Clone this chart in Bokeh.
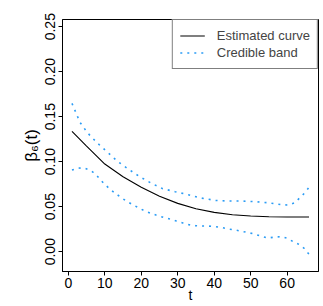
from bokeh.plotting import figure
from bokeh.models import FixedTicker, Legend, LegendItem, Range1d
from bokeh.embed import file_html
from bokeh.resources import INLINE

# ---- data ----
t_est = [1, 5, 10, 15, 20, 25, 30, 35, 40, 45, 50, 55, 60, 66]
est = [0.1337, 0.1174, 0.0974, 0.0833, 0.0715, 0.0615, 0.0537, 0.0478, 0.0437,
       0.0411, 0.0396, 0.0388, 0.0385, 0.0385]

t_up = [1.0, 3.2, 5.3, 7.85, 10.6, 13.4, 16.3, 19.45, 22.65, 25.9, 29.3, 32.9,
        36.5, 40.2, 43.8, 47.5, 51.1, 54.8, 58.4, 60.3, 62.1, 63.4, 64.7, 66.0]
upper = [0.1648, 0.1437, 0.1319, 0.1211, 0.1111, 0.1007, 0.0922, 0.0837,
         0.0763, 0.0700, 0.0667, 0.0633, 0.0596, 0.0570, 0.0563, 0.0563,
         0.0556, 0.0544, 0.0522, 0.0519, 0.0544, 0.0596, 0.0648, 0.0715]

t_lo = [1.0, 2.65, 4.57, 6.2, 7.6, 8.77, 10.1, 11.5, 12.9, 14.4, 15.9, 17.5,
        19.2, 20.8, 22.6, 24.3, 26.1, 27.8, 29.6, 31.4, 33.1, 34.9, 36.7, 38.5,
        40.4, 42.2, 44.0, 45.8, 47.6, 49.5, 51.3, 53.1, 54.8, 56.6, 58.4, 60.1,
        61.7, 63.4, 64.8, 66.0]
lower = [0.0907, 0.0930, 0.0926, 0.0900, 0.0856, 0.0800, 0.0744, 0.0693,
         0.0648, 0.0604, 0.0563, 0.0526, 0.0489, 0.0456, 0.0426, 0.0404,
         0.0381, 0.0363, 0.0341, 0.0319, 0.0300, 0.0289, 0.0285, 0.0285,
         0.0278, 0.0267, 0.0252, 0.0241, 0.0226, 0.0211, 0.0193, 0.0170,
         0.0152, 0.0163, 0.0167, 0.0148, 0.0111, 0.0078, 0.0033, -0.0030]

x_ticks = [0, 10, 20, 30, 40, 50, 60]
y_ticks = [0.0, 0.05, 0.10, 0.15, 0.20, 0.25]
y_tick_labels = ["0.00", "0.05", "0.10", "0.15", "0.20", "0.25"]

FONT = "Liberation Sans"
BAND = "#2b9cf5"
FS = "14px"

p = figure(width=323, height=306, output_backend="svg", toolbar_location=None,
           x_range=Range1d(-1.6, 68.6), y_range=Range1d(-0.022, 0.258),
           min_border_left=62, min_border_top=19, min_border_right=5,
           min_border_bottom=35)
p.grid.visible = False
p.outline_line_color = "black"
p.outline_line_width = 1
p.outline_line_alpha = 1
p.background_fill_color = "white"

r_est = p.line(t_est, est, line_color="black", line_width=1.1)
r_up = p.line(t_up, upper, line_color=BAND, line_width=1.6, line_dash="2 5")
r_lo = p.line(t_lo, lower, line_color=BAND, line_width=1.6, line_dash="2 5")

# axes
for ax in (p.xaxis[0], p.yaxis[0]):
    ax.major_tick_out = 4
    ax.major_tick_in = 0
    ax.minor_tick_line_color = None
    ax.axis_line_color = "black"
    ax.major_tick_line_color = "black"
    ax.major_label_text_font = FONT
    ax.major_label_text_font_size = FS
    ax.major_label_text_color = "black"
    ax.axis_label_text_font = FONT
    ax.axis_label_text_font_style = "normal"
    ax.axis_label_text_color = "black"

p.xaxis.ticker = FixedTicker(ticks=x_ticks)
p.xaxis.major_label_standoff = 2
p.xaxis.axis_label = "t"
p.xaxis.axis_label_text_font_size = FS
p.xaxis.axis_label_standoff = -4

p.yaxis.ticker = FixedTicker(ticks=y_ticks)
p.yaxis.major_label_overrides = {v: s for v, s in zip(y_ticks, y_tick_labels)}
p.yaxis.major_label_orientation = "vertical"
p.yaxis.major_label_standoff = 3
p.yaxis.axis_label = "β₆(t)"
p.yaxis.axis_label_text_font_size = "17px"
p.yaxis.axis_label_standoff = 2

legend = Legend(items=[LegendItem(label="Estimated curve", renderers=[r_est]),
                       LegendItem(label="Credible band", renderers=[r_up])],
                location="top_right", margin=0, padding=7, spacing=0,
                glyph_width=25, glyph_height=17, label_height=17,
                label_standoff=12,
                label_text_font=FONT, label_text_font_size="13px",
                border_line_color="black", border_line_width=1,
                background_fill_color="white", background_fill_alpha=1)
p.add_layout(legend)

open("out.html", "w").write(file_html(p, INLINE))
